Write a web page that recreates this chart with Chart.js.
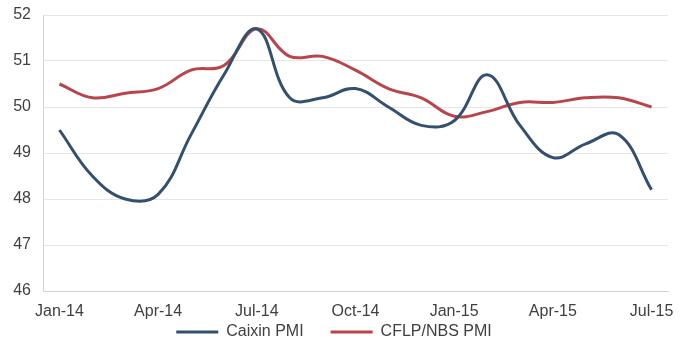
<!DOCTYPE html>
<html>
<head>
<meta charset="utf-8">
<script src="https://cdn.jsdelivr.net/npm/chart.js@4/dist/chart.umd.min.js"></script>
<style>
    html, body { margin: 0; padding: 0; background: #ffffff; }
    #wrap { width: 682px; height: 347px; }
</style>
</head>
<body>
<div id="wrap"><canvas id="pmiChart" width="682" height="347"></canvas></div>
<script>
// months, one per point
const months = ['Jan-14', 'Feb-14', 'Mar-14', 'Apr-14', 'May-14', 'Jun-14', 'Jul-14', 'Aug-14', 'Sep-14', 'Oct-14',
    'Nov-14', 'Dec-14', 'Jan-15', 'Feb-15', 'Mar-15', 'Apr-15', 'May-15', 'Jun-15', 'Jul-15'];

// values
const caixinPmi = [49.5, 48.5, 48.0, 48.1, 49.4, 50.7, 51.7, 50.2, 50.2, 50.4, 50.0, 49.6, 49.7, 50.7, 49.6, 48.9, 49.2, 49.4, 48.2];
const nbsPmi = [50.5, 50.2, 50.3, 50.4, 50.8, 50.9, 51.7, 51.1, 51.1, 50.8, 50.4, 50.2, 49.8, 49.9, 50.1, 50.1, 50.2, 50.2, 50.0];

const yMin = 46;
const yMax = 52;

const font = { family: "'Liberation Sans', Arial, sans-serif", size: 16 };

// legend padding is also the gap between the two entries, so the box is kept
// short for the layout and then stretched up over the empty space
const legendGap = 27;
const legendBoxHeight = 25;

const legendShift = {
    id: 'legendShift',
    afterLayout(chart) {
        const lg = chart.legend;
        if (!lg) return;
        lg.top -= legendBoxHeight;
        lg.height = lg.bottom - lg.top;
    }
};

document.addEventListener('DOMContentLoaded', function() {
    new Chart(document.getElementById('pmiChart'), {
        type: 'line',
        data: {
            labels: months,
            datasets: [{
                label: 'Caixin PMI',
                data: caixinPmi,
                borderColor: '#34506f',
                backgroundColor: '#34506f',
                borderWidth: 3,
                pointRadius: 0,
                tension: 0.4,
                fill: false
            }, {
                label: 'CFLP/NBS PMI',
                data: nbsPmi,
                borderColor: '#b8444c',
                backgroundColor: '#b8444c',
                borderWidth: 3,
                pointRadius: 0,
                tension: 0.4,
                fill: false
            }]
        },
        options: {
            responsive: false,
            animation: false,
            layout: {
                padding: { top: 15, right: 14, left: 0, bottom: 0 }
            },
            plugins: {
                tooltip: { enabled: false },
                legend: {
                    position: 'bottom',
                    maxHeight: legendBoxHeight,
                    labels: {
                        usePointStyle: true,
                        pointStyle: 'line',
                        pointStyleWidth: 42,
                        padding: legendGap,
                        color: '#404040',
                        font: font
                    }
                }
            },
            scales: {
                x: {
                    offset: true,
                    grid: { display: false, drawTicks: false },
                    border: { display: true, color: '#d4d4d4', width: 1 },
                    ticks: {
                        autoSkip: false,
                        maxRotation: 0,
                        padding: 11,
                        color: '#404040',
                        font: font,
                        callback: function(value, index) {
                            return index % 3 === 0 ? months[index] : null;
                        }
                    },
                    afterFit: function(scale) {
                        scale.height = 31;
                        scale.paddingLeft = 0;
                        scale.paddingRight = 0;
                    }
                },
                y: {
                    min: yMin,
                    max: yMax,
                    grid: { color: '#e6e6e6', drawTicks: false },
                    border: { display: true, color: '#d4d4d4', width: 1 },
                    ticks: {
                        stepSize: 1,
                        padding: 12,
                        color: '#404040',
                        font: font
                    },
                    afterFit: function(scale) {
                        scale.width = 43;
                        scale.paddingTop = 0;
                        scale.paddingBottom = 0;
                    }
                }
            }
        },
        plugins: [legendShift]
    });
});
</script>
</body>
</html>
